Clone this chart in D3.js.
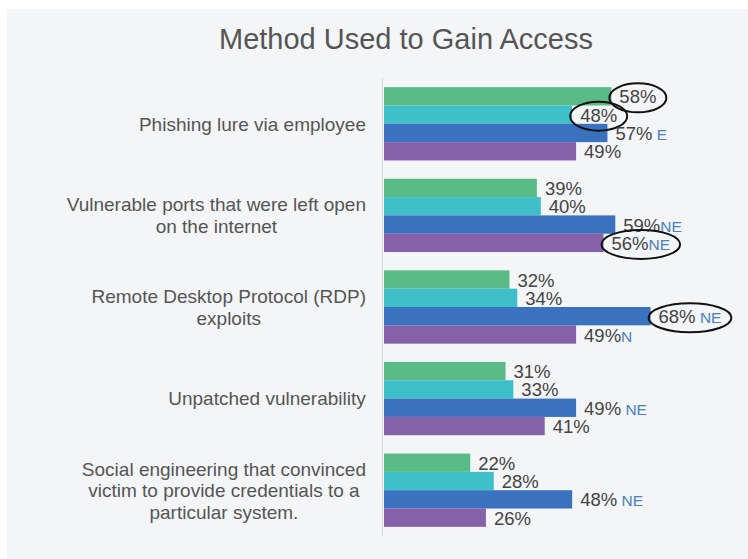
<!DOCTYPE html>
<html lang="en">
<head>
<meta charset="utf-8">
<title>Method Used to Gain Access</title>
<script src="https://cdn.jsdelivr.net/npm/d3@7"></script>
<style>
  body { margin: 0; background: #fff; }
  svg text { font-family: "Liberation Sans", Arial, sans-serif; white-space: pre; }
</style>
</head>
<body>
<script>
// ---- data ----
var categories = [
  "Phishing lure via employee",
  "Vulnerable ports that were left open|on the internet",
  "Remote Desktop Protocol (RDP)|exploits",
  "Unpatched vulnerability",
  "Social engineering that convinced|victim to provide credentials to a|particular system."
];
var seriesNames = ["S1", "S2", "S3", "S4"];
var s1 = [58, 39, 32, 31, 22];
var s2 = [48, 40, 34, 33, 28];
var s3 = [57, 59, 68, 49, 48];
var s4 = [49, 56, 49, 41, 26];
// region notes printed after some values
var s3Notes = [" E", "NE", " NE", " NE", " NE"];
var s4Notes = ["", "NE", "N", "", ""];
// circled labels: [category index, series index]
var circled = [[0, 0], [0, 1], [1, 3], [2, 2]];

var colors = ["#5bbb86", "#3fc0c8", "#3b72bf", "#8661aa"];

var w = 748, h = 559;
var svg = d3.select("body").append("svg")
  .attr("width", w)
  .attr("height", h);

// grey panel
svg.append("rect")
  .attr("x", 7).attr("y", 9)
  .attr("width", w - 7).attr("height", h - 9)
  .attr("fill", "#f3f5f6");

svg.append("text")
  .attr("x", 406).attr("y", 49)
  .attr("text-anchor", "middle")
  .attr("font-size", 29)
  .attr("fill", "#555")
  .text("Method Used to Gain Access");

var x = d3.scaleLinear().domain([0, 100]).range([384, 776]);
var y = d3.scaleBand().domain(d3.range(categories.length))
  .range([78, 536]).paddingInner(0.2).paddingOuter(0.1);
var y1 = d3.scaleBand().domain(d3.range(seriesNames.length))
  .range([0, y.bandwidth()]);

var rows = categories.map(function(c, i) {
  return {
    cat: c,
    vals: [s1[i], s2[i], s3[i], s4[i]],
    notes: ["", "", s3Notes[i], s4Notes[i]]
  };
});

// axis line
svg.append("line")
  .attr("x1", 382.5).attr("x2", 382.5)
  .attr("y1", 78).attr("y2", 536)
  .attr("stroke", "#d6d8da");

var groups = svg.selectAll("g.grp")
  .data(rows)
  .enter().append("g")
  .attr("class", "grp")
  .attr("transform", function(d, i) { return "translate(0," + y(i) + ")"; });

groups.selectAll("rect")
  .data(function(d) { return d.vals; })
  .enter().append("rect")
  .attr("x", x(0))
  .attr("y", function(d, j) { return y1(j); })
  .attr("width", function(d) { return x(d) - x(0); })
  .attr("height", y1.bandwidth())
  .attr("fill", function(d, j) { return colors[j]; });

groups.each(function(row, i) {
  var g = d3.select(this);
  row.vals.forEach(function(v, j) {
    var t = g.append("text")
      .attr("x", x(v) + 8)
      .attr("y", y1(j) + y1.bandwidth() / 2)
      .attr("dy", "0.38em")
      .attr("font-size", 18.5)
      .attr("fill", "#444");
    t.append("tspan").text(v + "%");
    if (row.notes[j]) {
      t.append("tspan")
        .attr("font-size", 15.5)
        .attr("fill", "#4a7fc0")
        .text(row.notes[j]);
    }
    var isCircled = circled.some(function(c) { return c[0] === i && c[1] === j; });
    if (isCircled) {
      var bb = t.node().getBBox();
      g.append("ellipse")
        .attr("cx", bb.x + bb.width / 2)
        .attr("cy", bb.y + bb.height / 2 + 1)
        .attr("rx", bb.width / 2 + 10)
        .attr("ry", bb.height / 2 + 4)
        .attr("fill", "none")
        .attr("stroke", "#111")
        .attr("stroke-width", 2);
    }
  });
});

// category labels, each block centred on its widest line and right-aligned
groups.each(function(row) {
  var g = d3.select(this);
  var lines = row.cat.split("|");
  var lh = 21.5;
  var lab = g.append("text")
    .attr("font-size", 19)
    .attr("fill", "#555")
    .attr("text-anchor", "middle");
  lines.forEach(function(l, k) {
    lab.append("tspan")
      .attr("x", 0)
      .attr("y", y.bandwidth() / 2 + (k - (lines.length - 1) / 2) * lh)
      .attr("dy", "0.36em")
      .text(l);
  });
  var bw = lab.node().getBBox().width;
  lab.selectAll("tspan").attr("x", 366 - bw / 2);
});
</script>
</body>
</html>
